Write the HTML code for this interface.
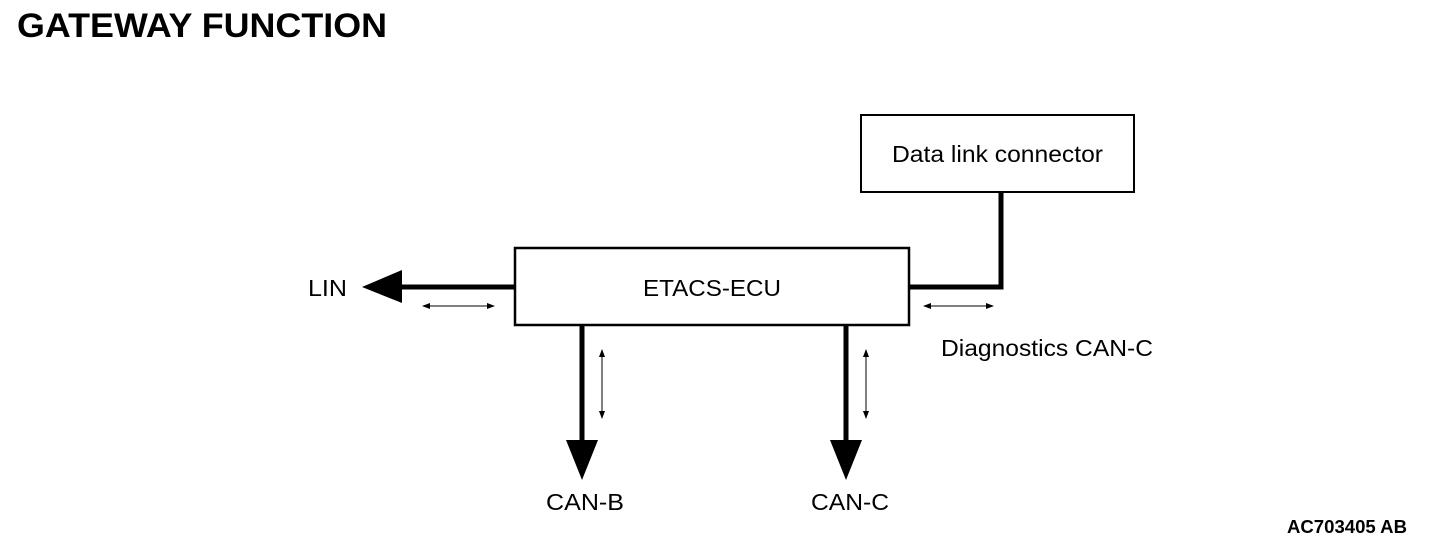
<!DOCTYPE html>
<html><head><style>
body{margin:0;background:#fff;}
svg{display:block;font-family:"Liberation Sans",Arial,sans-serif;}
</style></head><body>
<svg width="1440" height="548" viewBox="0 0 1440 548">
<defs>
<marker id="a" markerWidth="8" markerHeight="6" refX="7" refY="3" orient="auto-start-reverse" markerUnits="userSpaceOnUse"><path d="M0,0 L8,3 L0,6 Z" fill="#000"/></marker>
</defs>
<text x="17" y="37" font-size="34" font-weight="bold" textLength="370" lengthAdjust="spacingAndGlyphs">GATEWAY FUNCTION</text>
<rect x="861" y="115" width="273" height="77" fill="none" stroke="#000" stroke-width="2"/>
<text x="892" y="162" font-size="23" textLength="211" lengthAdjust="spacingAndGlyphs">Data link connector</text>
<rect x="515" y="248" width="394" height="77" fill="none" stroke="#000" stroke-width="2.5"/>
<text x="643" y="296" font-size="23" textLength="138" lengthAdjust="spacingAndGlyphs">ETACS-ECU</text>
<line x1="400" y1="287" x2="515" y2="287" stroke="#000" stroke-width="5"/>
<polygon points="362,287 402,270 402,303" fill="#000"/>
<text x="308" y="296" font-size="23" textLength="39" lengthAdjust="spacingAndGlyphs">LIN</text>
<line x1="423" y1="306" x2="494" y2="306" stroke="#000" stroke-width="1" marker-start="url(#a)" marker-end="url(#a)"/>
<polyline points="909,287 1001,287 1001,192" fill="none" stroke="#000" stroke-width="5"/>
<line x1="924" y1="306" x2="993" y2="306" stroke="#000" stroke-width="1" marker-start="url(#a)" marker-end="url(#a)"/>
<text x="941" y="356" font-size="23" textLength="212" lengthAdjust="spacingAndGlyphs">Diagnostics CAN-C</text>
<line x1="582" y1="325" x2="582" y2="442" stroke="#000" stroke-width="5"/>
<polygon points="566,440 598,440 582,480" fill="#000"/>
<line x1="602" y1="350" x2="602" y2="418" stroke="#000" stroke-width="1" marker-start="url(#a)" marker-end="url(#a)"/>
<text x="546" y="510" font-size="23" textLength="78" lengthAdjust="spacingAndGlyphs">CAN-B</text>
<line x1="846" y1="325" x2="846" y2="442" stroke="#000" stroke-width="5"/>
<polygon points="830,440 862,440 846,480" fill="#000"/>
<line x1="866" y1="350" x2="866" y2="418" stroke="#000" stroke-width="1" marker-start="url(#a)" marker-end="url(#a)"/>
<text x="811" y="510" font-size="23" textLength="78" lengthAdjust="spacingAndGlyphs">CAN-C</text>
<text x="1287" y="533" font-size="18" font-weight="bold" textLength="120" lengthAdjust="spacingAndGlyphs">AC703405 AB</text>
</svg>
</body></html>
